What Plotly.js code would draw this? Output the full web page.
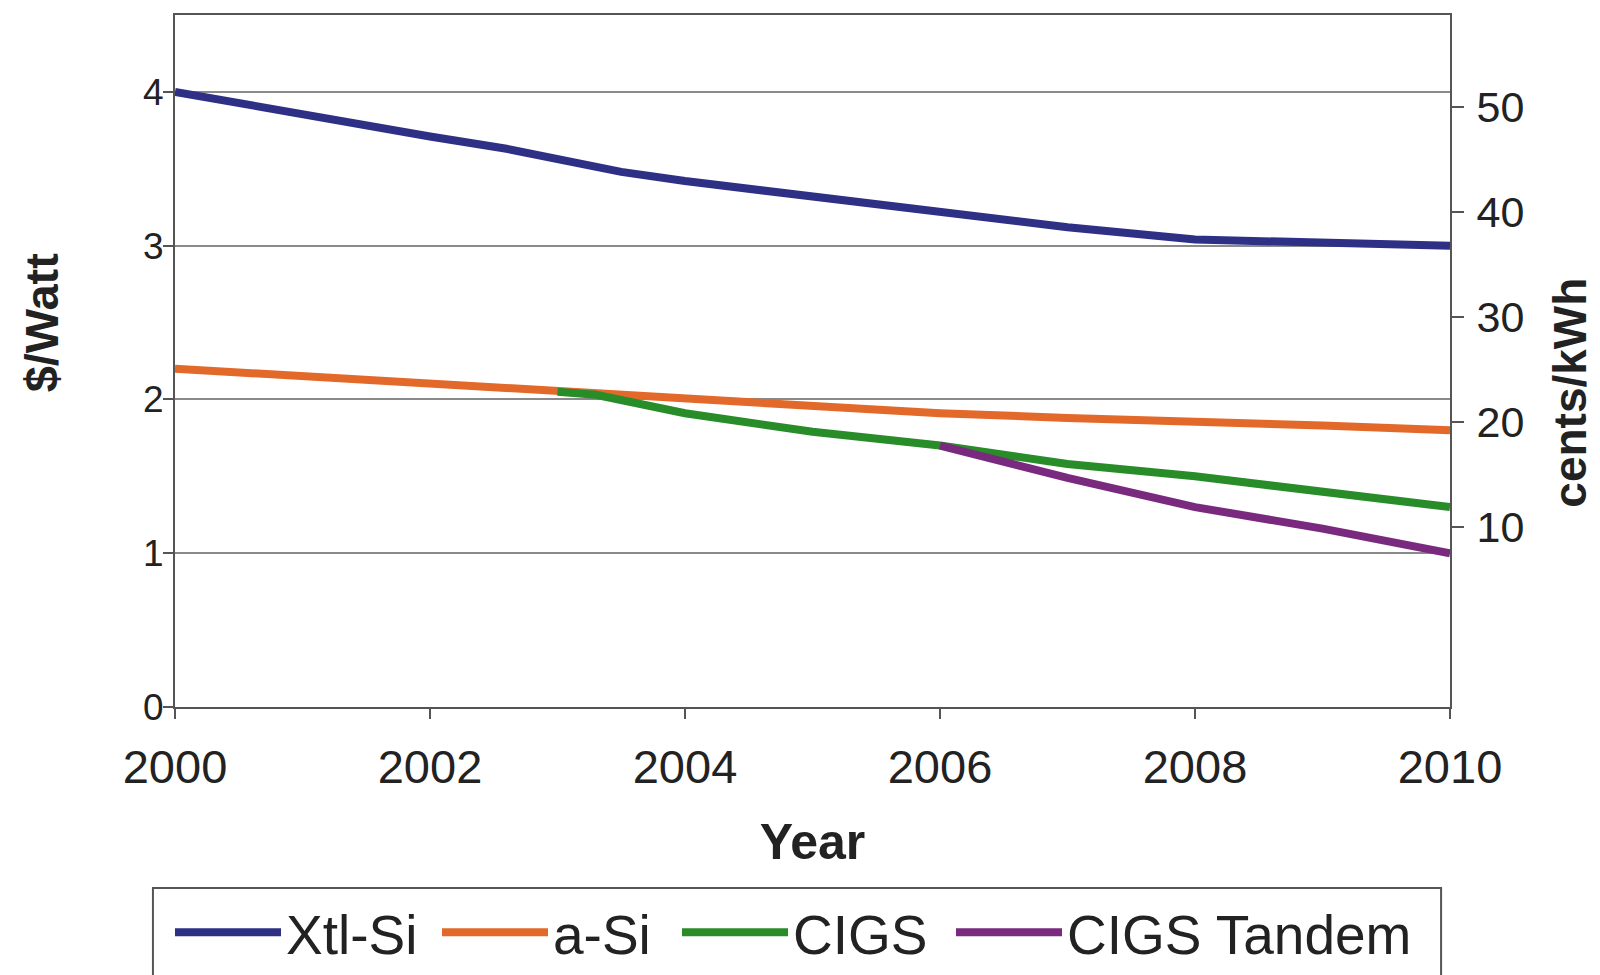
<!DOCTYPE html>
<html>
<head>
<meta charset="utf-8">
<script src="https://cdn.plot.ly/plotly-3.0.1.min.js"></script>
<style>html,body{margin:0;padding:0;background:#fff;}#chart{width:1600px;height:975px;}</style>
</head>
<body>
<div id="chart"></div>
<script>
// Years and $/Watt values
const xtlYears  = [2000, 2001, 2002, 2002.6, 2003, 2003.5, 2004, 2005, 2006, 2007, 2008, 2009, 2010];
const xtlValues = [4.00, 3.85, 3.71, 3.63, 3.56, 3.48, 3.42, 3.32, 3.22, 3.12, 3.04, 3.02, 3.00];

const aSiYears  = [2000, 2001, 2002, 2003, 2004, 2005, 2006, 2007, 2008, 2009, 2010];
const aSiValues = [2.20, 2.15, 2.10, 2.05, 2.00, 1.95, 1.91, 1.88, 1.86, 1.83, 1.80];

const cigsYears  = [2003, 2003.3, 2004, 2005, 2006, 2007, 2008, 2009, 2010];
const cigsValues = [2.05, 2.03, 1.91, 1.79, 1.70, 1.58, 1.50, 1.40, 1.30];

const tandemYears  = [2006, 2007, 2008, 2009, 2010];
const tandemValues = [1.70, 1.49, 1.30, 1.16, 1.00];

const seriesNames = ['Xtl-Si', 'a-Si', 'CIGS', 'CIGS Tandem'];
const xTickVals = [2000, 2002, 2004, 2006, 2008, 2010];
const leftTickVals = [0, 1, 2, 3, 4];
const rightTickVals = [10, 20, 30, 40, 50];   // cents/kWh scale

const FONT = 'Liberation Sans, Arial, sans-serif';
const TXT = '#222222';
const EDGE = '#555555';

const traces = [
  {x: xtlYears, y: xtlValues, name: seriesNames[0], mode: 'lines', legend: 'legend', line: {color: '#2d3084', width: 8}},
  {x: aSiYears, y: aSiValues, name: seriesNames[1], mode: 'lines', legend: 'legend2', line: {color: '#e2692a', width: 8}},
  {x: cigsYears, y: cigsValues, name: seriesNames[2], mode: 'lines', legend: 'legend3', line: {color: '#288c28', width: 8}},
  {x: tandemYears, y: tandemValues, name: seriesNames[3], mode: 'lines', legend: 'legend4', line: {color: '#7a2a7e', width: 8}},
  // empty trace so the secondary (cents/kWh) axis is drawn
  {x: [], y: [], yaxis: 'y2', mode: 'lines', showlegend: false, hoverinfo: 'skip'}
];

function legendAt(xFrac) {
  return {
    orientation: 'h', xref: 'container', yref: 'container',
    x: xFrac, xanchor: 'left', y: 0.0872, yanchor: 'top',
    borderwidth: 0, bgcolor: 'rgba(0,0,0,0)',
    font: {size: 55, color: TXT, family: FONT}, itemwidth: 106
  };
}

const layout = {
  width: 1600, height: 975,
  paper_bgcolor: '#ffffff', plot_bgcolor: '#ffffff',
  margin: {l: 175, r: 150, t: 15, b: 268},
  font: {family: FONT, color: TXT},
  showlegend: true,
  xaxis: {
    range: [2000, 2010], tickvals: xTickVals, ticktext: xTickVals.map(String),
    ticks: 'outside', ticklen: 10, tickwidth: 2, tickcolor: EDGE,
    showline: true, linecolor: EDGE, linewidth: 2, mirror: true,
    showgrid: false, zeroline: false, automargin: false,
    tickfont: {size: 47, color: TXT, family: FONT}, ticklabelstandoff: 8,
    title: {text: 'Year', font: {size: 50, color: TXT, family: FONT, weight: 'bold'}, standoff: 32}
  },
  yaxis: {
    range: [0, 4.5], tickvals: leftTickVals, ticktext: leftTickVals.map(String),
    ticks: 'outside', ticklen: 10, tickwidth: 2, tickcolor: EDGE,
    showline: true, linecolor: EDGE, linewidth: 2,
    showgrid: true, gridcolor: '#8a8a8a', gridwidth: 2, zeroline: false, automargin: false,
    tickfont: {size: 37, color: TXT, family: FONT}, ticklabelstandoff: -8
  },
  yaxis2: {
    overlaying: 'y', side: 'right', anchor: 'x',
    range: [-7.1, 58.7], tickvals: rightTickVals, ticktext: rightTickVals.map(String),
    ticks: 'outside', ticklen: 12, tickwidth: 2, tickcolor: EDGE,
    showline: true, linecolor: EDGE, linewidth: 2,
    showgrid: false, zeroline: false, automargin: false,
    tickfont: {size: 43, color: TXT, family: FONT}, ticklabelstandoff: 4
  },
  annotations: [
    {text: '$/Watt', xref: 'paper', yref: 'paper', x: -0.105, y: 0.556, textangle: -90,
     showarrow: false, xanchor: 'center', yanchor: 'middle',
     font: {size: 47, color: TXT, family: FONT, weight: 'bold'}},
    {text: 'cents/kWh', xref: 'paper', yref: 'paper', x: 1.094, y: 0.454, textangle: -90,
     showarrow: false, xanchor: 'center', yanchor: 'middle',
     font: {size: 46, color: TXT, family: FONT, weight: 'bold'}}
  ],
  shapes: [
    {type: 'rect', xref: 'paper', yref: 'paper', x0: -0.0173, x1: 0.993, y0: -0.6, y1: -0.2616,
     line: {color: EDGE, width: 2}, fillcolor: 'rgba(0,0,0,0)', layer: 'above'}
  ],
  legend: legendAt(0.10625),
  legend2: legendAt(0.27313),
  legend3: legendAt(0.42313),
  legend4: legendAt(0.59438)
};

Plotly.newPlot('chart', traces, layout, {displayModeBar: false, staticPlot: true});
</script>
</body>
</html>
